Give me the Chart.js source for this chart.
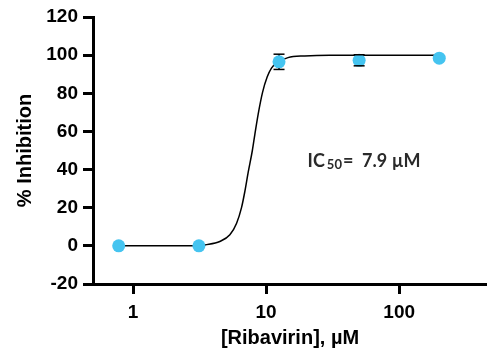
<!DOCTYPE html>
<html>
<head>
<meta charset="utf-8">
<script src="https://cdn.jsdelivr.net/npm/chart.js@4/dist/chart.umd.min.js"></script>
<style>
  html, body { margin: 0; padding: 0; background: #fff; overflow: hidden; }
  #wrap { width: 487px; height: 352px; }
  canvas { display: block; }
</style>
</head>
<body>
<div id="wrap"><canvas id="ic50_chart"></canvas></div>
<script>
// measured points (concentration in µM, % inhibition, error)
var conc = [0.78, 3.125, 12.5, 50, 200];
var inhibition = [0, 0, 96.5, 97.3, 98.4];
var errors = [0, 0, 4, 2.9, 0];

// fitted curve
var fitConc = [0.78, 3.125, 3.47, 4.49, 5.34, 6.0, 6.54, 6.92, 7.33, 7.88, 8.23, 8.71, 9.4, 10.18, 10.97, 12.5, 14.6, 19.5, 30, 50, 200];
var fitValues = [0, 0, 0.5, 2.3, 5.8, 11.9, 20.2, 28.5, 38.5, 50, 58.5, 69, 80.5, 88.5, 93.2, 96.6, 98.7, 99.6, 100, 100, 100];

var xTicks = [1, 10, 100];
var yTicks = [-20, 0, 20, 40, 60, 80, 100, 120];

var pointsData = conc.map(function (c, i) { return { x: c, y: inhibition[i] }; });
var fitData = fitConc.map(function (c, i) { return { x: c, y: fitValues[i] }; });

var errorBars = {
    id: 'errorBars',
    beforeDatasetsDraw: function (chart) {
        var ctx = chart.ctx, xs = chart.scales.x, ys = chart.scales.y;
        ctx.save();
        ctx.strokeStyle = '#000';
        ctx.lineWidth = 1.5;
        conc.forEach(function (c, i) {
            if (!errors[i]) return;
            var px = xs.getPixelForValue(c);
            ctx.beginPath();
            ctx.moveTo(px, ys.getPixelForValue(inhibition[i] + errors[i]));
            ctx.lineTo(px, ys.getPixelForValue(inhibition[i] - errors[i]));
            ctx.stroke();
        });
        ctx.restore();
    },
    afterDatasetsDraw: function (chart) {
        var ctx = chart.ctx, xs = chart.scales.x, ys = chart.scales.y;
        ctx.save();
        ctx.strokeStyle = '#000';
        ctx.lineWidth = 1.5;
        conc.forEach(function (c, i) {
            if (!errors[i]) return;
            var px = xs.getPixelForValue(c);
            [inhibition[i] + errors[i], inhibition[i] - errors[i]].forEach(function (v) {
                var py = ys.getPixelForValue(v);
                ctx.beginPath();
                ctx.moveTo(px - 5.5, py);
                ctx.lineTo(px + 5.5, py);
                ctx.stroke();
            });
        });

        // IC50 label
        var lx = xs.getPixelForValue(20.5);
        var ly = ys.getPixelForValue(41.5);
        ctx.fillStyle = '#2a2a2a';
        ctx.textBaseline = 'alphabetic';
        ctx.font = 'bold 18px Lato';
        ctx.fillText('IC', lx, ly);
        var w = ctx.measureText('IC').width + 2;
        ctx.font = 'bold 13px Lato';
        ctx.fillText('50', lx + w, ly + 2.5);
        w += ctx.measureText('50').width + 1;
        ctx.font = 'bold 18px Lato';
        ctx.fillText('=  7.9 µM', lx + w, ly);
        ctx.restore();
    }
};

var chart = new Chart(document.getElementById('ic50_chart'), {
    type: 'line',
    data: {
        datasets: [{
            data: pointsData,
            showLine: false,
            pointRadius: 6.5,
            pointHoverRadius: 6.5,
            pointBackgroundColor: '#45c4f0',
            pointBorderWidth: 0,
            borderColor: '#45c4f0'
        }, {
            data: fitData,
            borderColor: '#000',
            borderWidth: 1.5,
            pointRadius: 0,
            cubicInterpolationMode: 'monotone',
            fill: false
        }]
    },
    options: {
        responsive: true,
        maintainAspectRatio: false,
        animation: false,
        layout: { padding: 0, autoPadding: false },
        plugins: { legend: { display: false }, tooltip: { enabled: false } },
        scales: {
            x: {
                type: 'logarithmic',
                min: 0.5,
                max: 457,
                afterBuildTicks: function (s) { s.ticks = xTicks.map(function (v) { return { value: v }; }); },
                afterFit: function (s) { s.height = 68; s.paddingLeft = 0; s.paddingRight = 0; },
                ticks: {
                    color: '#000',
                    font: { family: 'Liberation Sans', size: 19, weight: 'bold', lineHeight: 1 },
                    padding: 9,
                    maxRotation: 0,
                    callback: function (v) { return String(v); }
                },
                grid: { drawOnChartArea: false, drawTicks: true, tickLength: 10, tickWidth: 3, tickColor: '#000' },
                border: { display: true, width: 3, color: '#000' },
                title: {
                    display: true,
                    text: '[Ribavirin], µM',
                    color: '#000',
                    font: { family: 'Liberation Sans', size: 20, weight: 'bold', lineHeight: 1 },
                    padding: { top: 4, bottom: 4 }
                }
            },
            y: {
                min: -20,
                max: 120,
                afterBuildTicks: function (s) { s.ticks = yTicks.map(function (v) { return { value: v }; }); },
                afterFit: function (s) { s.width = 93; s.paddingTop = 17; s.paddingBottom = 0; },
                ticks: {
                    color: '#000',
                    font: { family: 'Liberation Sans', size: 19, weight: 'bold' },
                    padding: 5
                },
                grid: { drawOnChartArea: false, drawTicks: true, tickLength: 10, tickWidth: 3, tickColor: '#000' },
                border: { display: true, width: 3, color: '#000' },
                title: {
                    display: true,
                    text: '% Inhibition',
                    color: '#000',
                    font: { family: 'Liberation Sans', size: 20, weight: 'bold' },
                    padding: { top: 13, bottom: 6 }
                }
            }
        }
    },
    plugins: [errorBars]
});
</script>
</body>
</html>
